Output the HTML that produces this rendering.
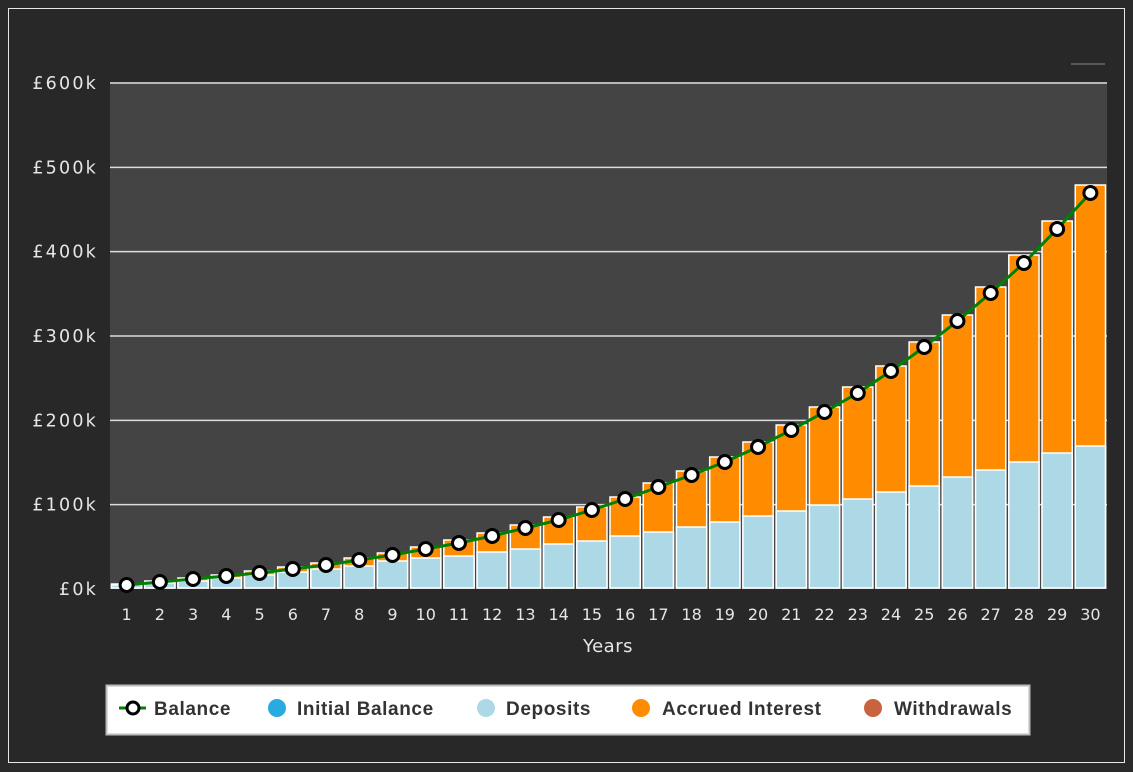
<!DOCTYPE html>
<html><head><meta charset="utf-8"><style>
html,body{margin:0;padding:0;background:#2a2a2a;}
svg{display:block;font-family:"DejaVu Sans","Liberation Sans",sans-serif;}
</style></head><body>
<svg id="s" width="1133" height="772" xmlns="http://www.w3.org/2000/svg">
<rect x="0" y="0" width="1133" height="772" fill="#2a2a2a"/>
<rect x="8.5" y="8.5" width="1116" height="754" fill="#282828" stroke="#e8e8e8" stroke-width="1"/>
<rect x="110" y="82" width="997" height="507" fill="#444"/>
<line x1="1071" y1="64" x2="1105" y2="64" stroke="#888" stroke-width="1"/>
<g id="grid"></g>
<g id="bars"></g>
<g id="line"></g>
<g id="ylab" fill="#e6e6e6" font-size="17.5" letter-spacing="2.2"></g>
<g id="labels" fill="#e6e6e6" font-size="16"></g>
<text x="608" y="652" fill="#e6e6e6" font-size="18" text-anchor="middle" letter-spacing="0.5">Years</text>
<rect x="106.5" y="685.5" width="923" height="49" fill="#fff" stroke="#bbb" stroke-width="2"/>
<g font-size="19" font-weight="bold" fill="#333" font-family="Liberation Sans, sans-serif" letter-spacing="0.6">
<line x1="119" y1="708" x2="146" y2="708" stroke="#008000" stroke-width="3"/>
<circle cx="133" cy="708" r="6" fill="#fff" stroke="#000" stroke-width="3"/>
<text x="154" y="715">Balance</text>
<circle cx="277" cy="708" r="9" fill="#29abe2"/>
<text x="297" y="715">Initial Balance</text>
<circle cx="486" cy="708" r="9" fill="#add8e6"/>
<text x="506" y="715">Deposits</text>
<circle cx="641" cy="708" r="9" fill="#ff8c00"/>
<text x="662" y="715">Accrued Interest</text>
<circle cx="873" cy="708" r="9" fill="#c8623f"/>
<text x="894" y="715">Withdrawals</text>
</g>
</svg>
<script>
var NS="http://www.w3.org/2000/svg";
function el(p,t,a,txt){var e=document.createElementNS(NS,t);for(var k in a)e.setAttribute(k,a[k]);if(txt!=null)e.textContent=txt;document.getElementById(p).appendChild(e);return e;}
var y0=589,ppk=506/600;
var labs=["£0k","£100k","£200k","£300k","£400k","£500k","£600k"];
for(var i=0;i<=6;i++){var y=y0-i*100*ppk;
 if(i>0)el("grid","line",{x1:110,x2:1107,y1:y,y2:y,stroke:"#ddd","stroke-width":1.5});
 el("ylab","text",{x:98,y:y+6,"text-anchor":"end"},labs[i]);}
var tot=[584,581,578,575,571,567,563,558,553,547,540,533,525,517,507,497,483,471,457,442,425,407,387,366,342,315,287,255,221,185];
var bal=[585,582,579,576,573,569,565,560,555,549,543,536,528,520,510,499,487,475,462,447,430,412,393,371,347,321,293,263,229,193];
var dep=[585,583,581,578,575,572,569,566,561,558,556,552,549,544,541,536,532,527,522,516,511,505,499,492,486,477,470,462,453,446];
var slot=997/30,pts=[];
for(var n=0;n<30;n++){
 var x=110+n*slot,cx=x+slot/2;
 var t=tot[n],d=dep[n];
 el("bars","rect",{x:x+1.5,y:t,width:slot-3,height:y0-1-t,fill:"#ff8c00",stroke:"#fff","stroke-width":1.5});
 el("bars","rect",{x:x+1.5,y:d,width:slot-3,height:y0-1-d,fill:"#add8e6",stroke:"#fff","stroke-width":1.5});
 el("labels","text",{x:cx,y:620,"text-anchor":"middle"},String(n+1));
 pts.push(cx+","+bal[n]);
}
el("line","polyline",{points:pts.join(" "),fill:"none",stroke:"#008000","stroke-width":3});
for(var n=0;n<30;n++){var p=pts[n].split(",");el("line","circle",{cx:p[0],cy:p[1],r:6.5,fill:"#fff",stroke:"#000","stroke-width":3});}
</script>
</body></html>
